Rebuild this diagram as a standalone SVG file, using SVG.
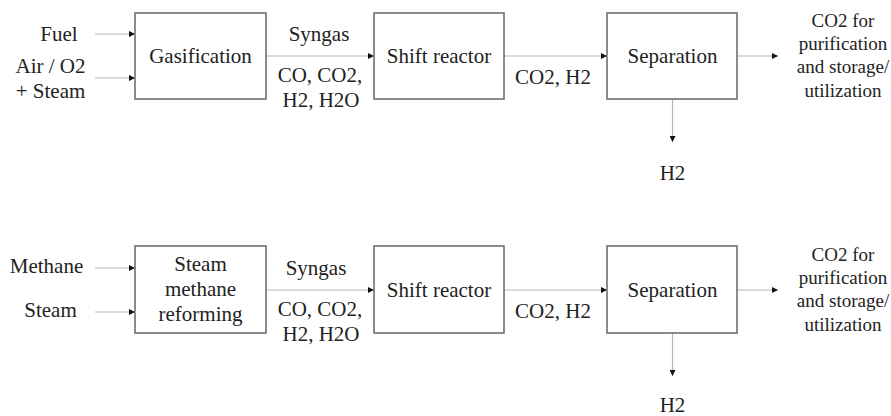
<svg xmlns="http://www.w3.org/2000/svg" width="891" height="416" viewBox="0 0 891 416">
<defs>
<marker id="ah" markerWidth="6" markerHeight="6" refX="6" refY="3" orient="auto" markerUnits="userSpaceOnUse">
<path d="M0,0 L6,3 L0,6 Z" fill="#111"/>
</marker>
<style>
.box{fill:#fff;stroke:#666;stroke-width:1.5}
.ln{fill:none;stroke:#b5b5b5;stroke-width:1.2;marker-end:url(#ah)}
.t{font-family:'Liberation Serif','Times New Roman',Times,serif;font-size:21px;fill:#222;text-anchor:middle}
.sm{font-size:19px}
</style>
</defs>
<rect width="891" height="416" fill="#fff"/>
<g id="connectors">
<line class="ln" x1="95" y1="34" x2="135" y2="34"/>
<line class="ln" x1="95" y1="78" x2="135" y2="78"/>
<line class="ln" x1="266" y1="56" x2="374" y2="56"/>
<line class="ln" x1="504" y1="56" x2="607" y2="56"/>
<line class="ln" x1="737" y1="56" x2="778" y2="56"/>
<line class="ln" x1="672.5" y1="99" x2="672.5" y2="142"/>
<line class="ln" x1="95" y1="268" x2="135" y2="268"/>
<line class="ln" x1="95" y1="312" x2="135" y2="312"/>
<line class="ln" x1="266" y1="290" x2="374" y2="290"/>
<line class="ln" x1="504" y1="290" x2="607" y2="290"/>
<line class="ln" x1="737" y1="290" x2="778" y2="290"/>
<line class="ln" x1="672.5" y1="333" x2="672.5" y2="376"/>
</g>
<g id="labels-top" class="t">
<text x="59" y="41">Fuel</text>
<text x="50.5" y="73">Air / O2</text>
<text x="50.5" y="98">+ Steam</text>
<text x="319" y="41">Syngas</text>
<text x="320" y="82">CO, CO2,</text>
<text x="321" y="107">H2, H2O</text>
<text x="553" y="84">CO2, H2</text>
<text x="672.5" y="180">H2</text>
<text class="sm" x="843" y="27">CO2 for</text>
<text class="sm" x="843" y="50">purification</text>
<text class="sm" x="843" y="73">and storage/</text>
<text class="sm" x="843" y="96.5">utilization</text>
</g>
<g id="gasification" class="t">
<rect class="box" x="135" y="13" width="131" height="86"/>
<text x="200.5" y="63">Gasification</text>
</g>
<g id="shift1" class="t">
<rect class="box" x="374" y="13" width="130" height="86"/>
<text x="439" y="63">Shift reactor</text>
</g>
<g id="separation1" class="t">
<rect class="box" x="607" y="13" width="130" height="86"/>
<text x="672.5" y="63">Separation</text>
</g>
<g id="labels-bottom" class="t">
<text x="46.5" y="273">Methane</text>
<text x="50.5" y="317">Steam</text>
<text x="316" y="275">Syngas</text>
<text x="320" y="316">CO, CO2,</text>
<text x="321" y="341">H2, H2O</text>
<text x="553" y="318">CO2, H2</text>
<text x="672.5" y="412">H2</text>
<text class="sm" x="843" y="261">CO2 for</text>
<text class="sm" x="843" y="284">purification</text>
<text class="sm" x="843" y="307">and storage/</text>
<text class="sm" x="843" y="330.5">utilization</text>
</g>
<g id="smr" class="t">
<rect class="box" x="135" y="246" width="131" height="87"/>
<text x="200.5" y="271">Steam</text>
<text x="200.5" y="296">methane</text>
<text x="200.5" y="321">reforming</text>
</g>
<g id="shift2" class="t">
<rect class="box" x="374" y="246" width="130" height="87"/>
<text x="439" y="297">Shift reactor</text>
</g>
<g id="separation2" class="t">
<rect class="box" x="607" y="246" width="130" height="87"/>
<text x="672.5" y="297">Separation</text>
</g>
</svg>
